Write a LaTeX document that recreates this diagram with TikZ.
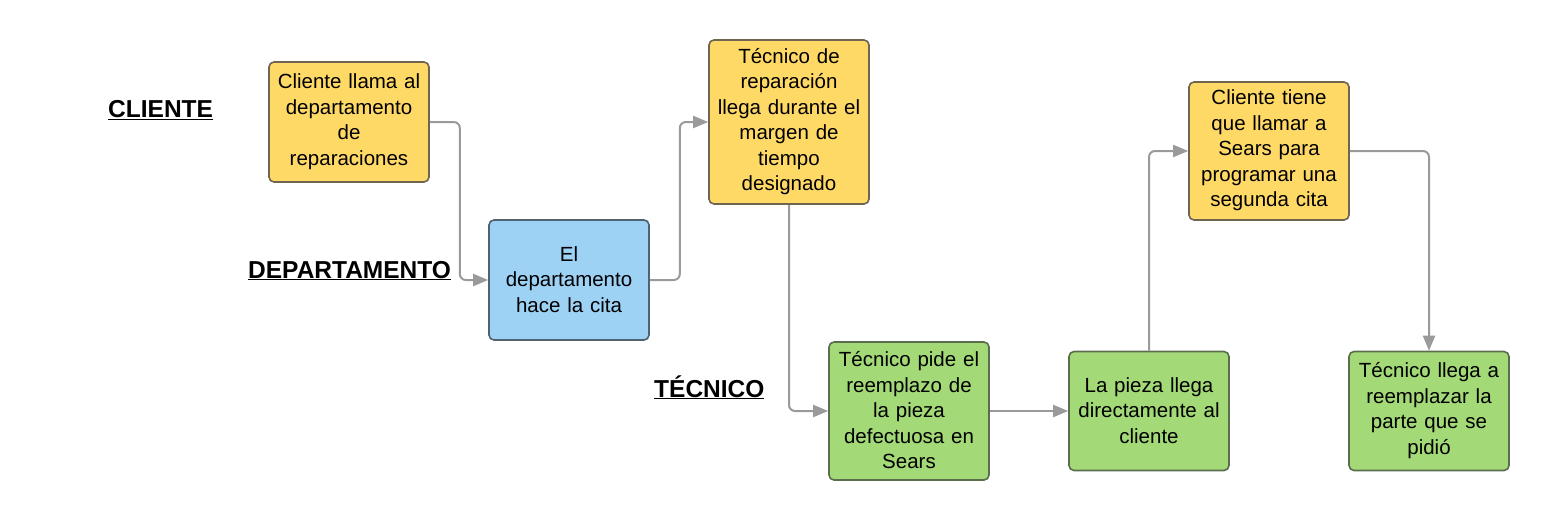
\documentclass[tikz,border=0pt]{standalone}
\usepackage{fontspec}
\setmainfont{Liberation Sans}
\usetikzlibrary{arrows.meta}
\definecolor{yel}{HTML}{FFD966}
\definecolor{yelb}{HTML}{6E6450}
\definecolor{blu}{HTML}{9DD2F5}
\definecolor{blub}{HTML}{4F6270}
\definecolor{grn}{HTML}{A3D977}
\definecolor{grnb}{HTML}{5A6E4E}
\definecolor{arr}{HTML}{9A9A9A}
\tikzset{
  box/.style={rectangle, rounded corners=5pt, line width=1.6pt, minimum width=160pt, inner sep=0pt, text width=152pt, align=center, font=\fontsize{20.5}{25.5}\selectfont, execute at end node={\par\vspace{1pt}}},
  ybox/.style={box, fill=yel, draw=yelb},
  bbox/.style={box, fill=blu, draw=blub},
  gbox/.style={box, fill=grn, draw=grnb},
  lane/.style={anchor=base west, inner sep=0pt, font=\fontsize{24.5}{28}\selectfont\bfseries},
  conn/.style={draw=arr, line width=2pt, rounded corners=6pt, -{Triangle[length=15pt,width=12pt]}}
}
\begin{document}
\begin{tikzpicture}[x=1pt,y=-1pt]
\useasboundingbox (0,0) rectangle (1549,520);
\node[lane] (l1) at (108,117.5) {\underline{CLIENTE}};
\node[lane] (l2) at (248,278) {\underline{DEPARTAMENTO}};
\node[lane] (l3) at (654,397) {\underline{TÉCNICO}};
\node[ybox, minimum height=120pt] (b1) at (349,122) {Cliente llama al\\departamento\\de\\reparaciones};
\node[bbox, minimum height=120pt] (b2) at (569,280) {El\\departamento\\hace la cita};
\node[ybox, minimum height=164pt] (b3) at (789,122) {Técnico de\\reparación\\llega durante el\\margen de\\tiempo\\designado};
\node[gbox, minimum height=138pt] (b4) at (909,411) {Técnico pide el\\reemplazo de\\la pieza\\defectuosa en\\Sears};
\node[gbox, minimum height=119pt] (b5) at (1149,411) {La pieza llega\\directamente al\\cliente};
\node[ybox, minimum height=138pt] (b6) at (1269,151) {Cliente tiene\\que llamar a\\Sears para\\programar una\\segunda cita};
\node[gbox, minimum height=119pt] (b7) at (1429,411) {Técnico llega a\\reemplazar la\\parte que se\\pidió};
\draw[conn] (b1.east) -- ++(30,0) |- (b2.west);
\draw[conn] (b2.east) -- ++(30,0) |- (b3.west);
\draw[conn] (b3.south) |- (b4.west);
\draw[conn] (b4.east) -- (b5.west);
\draw[conn] (b5.north) |- (b6.west);
\draw[conn] (b6.east) -| (b7.north);
\end{tikzpicture}
\end{document}
